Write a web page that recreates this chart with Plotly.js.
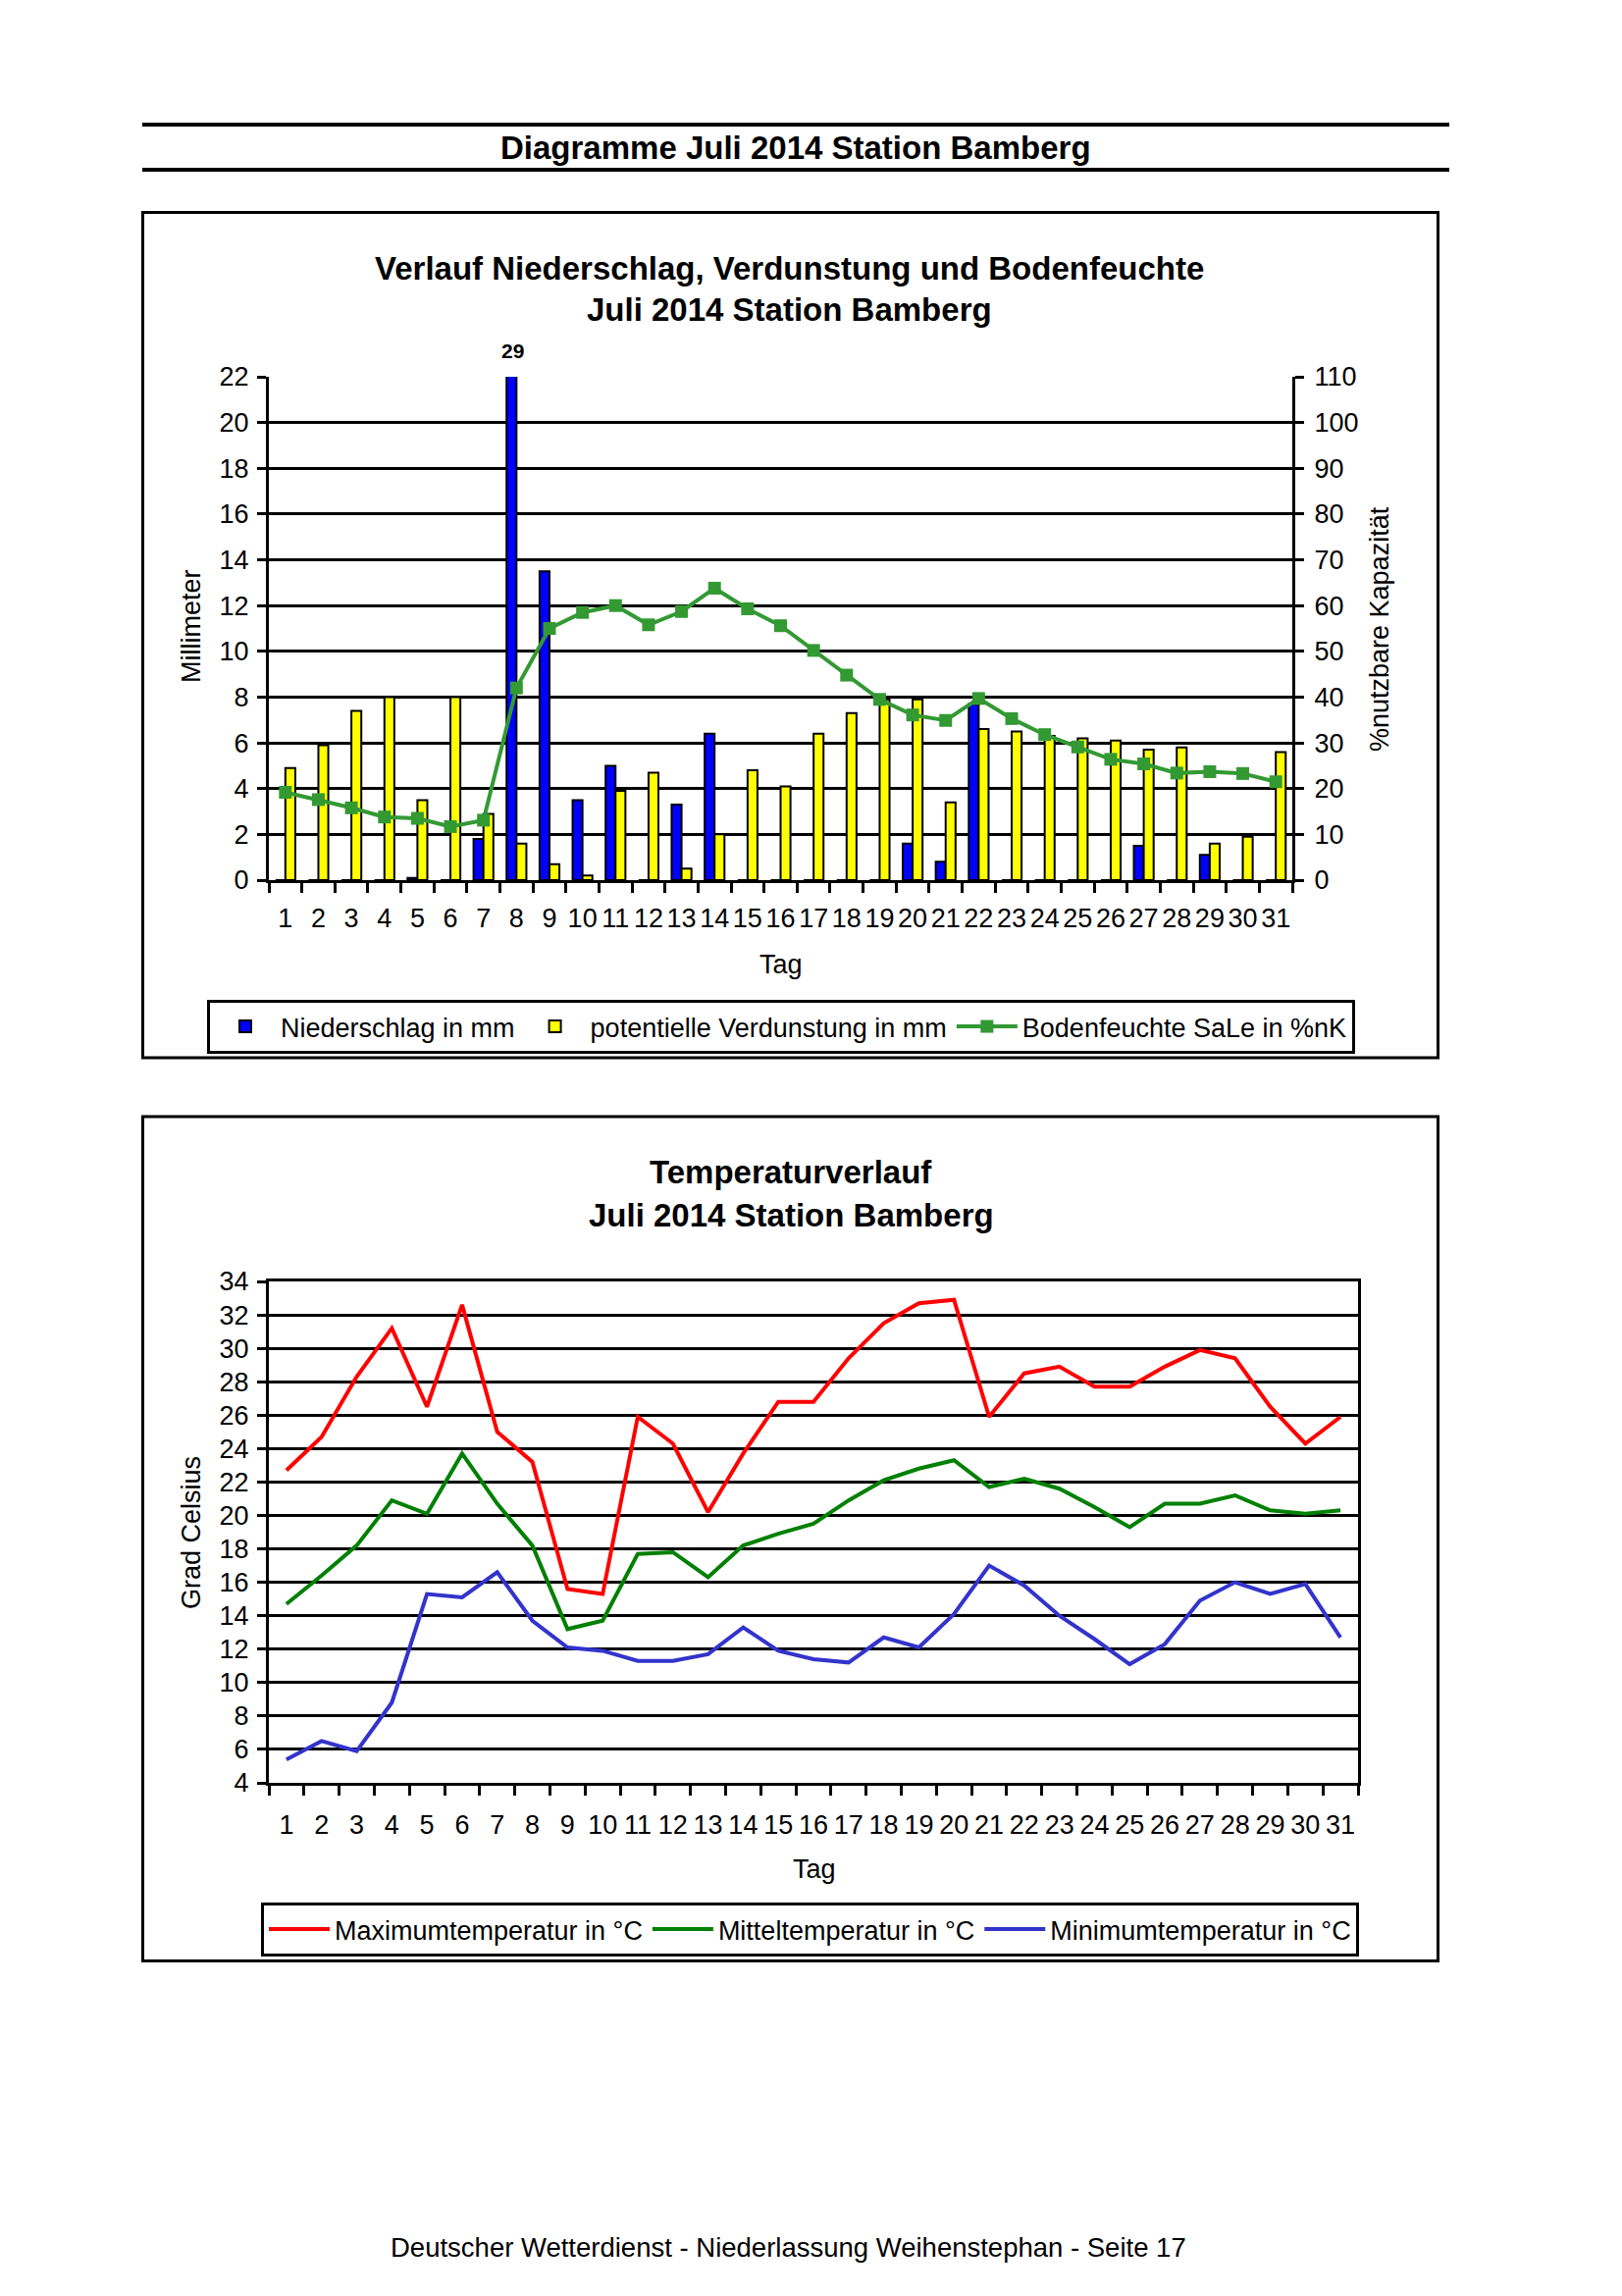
<!DOCTYPE html>
<html>
<head>
<meta charset="utf-8">
<script src="https://cdn.plot.ly/plotly-3.0.1.min.js"></script>
<style>
  html, body { margin: 0; padding: 0; background: #ffffff; }
  #page { width: 1653px; height: 2340px; }
</style>
</head>
<body>
<div id="page"></div>
<script>
// ---------------- data ----------------
const days = ['1','2','3','4','5','6','7','8','9','10','11','12','13','14','15','16','17','18','19','20','21','22','23','24','25','26','27','28','29','30','31'];

// Niederschlag in mm
const niederschlag = [0, 0, 0, 0, 0.1, 0, 1.8, 29, 13.5, 3.5, 5.0, 0, 3.3, 6.4, 0, 0, 0, 0, 0, 1.6, 0.8, 7.7, 0, 0, 0, 0, 1.5, 0, 1.1, 0, 0];
// potentielle Verdunstung in mm
const verdunstung = [4.9, 5.9, 7.4, 8.0, 3.5, 8.0, 2.9, 1.6, 0.7, 0.2, 3.9, 4.7, 0.5, 2.0, 4.8, 4.1, 6.4, 7.3, 7.9, 7.9, 3.4, 6.6, 6.5, 6.3, 6.2, 6.1, 5.7, 5.8, 1.6, 1.9, 5.6];
// Bodenfeuchte SaLe in %nK
const bodenfeuchte = [19.2, 17.6, 15.8, 13.8, 13.5, 11.7, 13.1, 42.0, 55.0, 58.5, 60.0, 55.8, 58.7, 63.8, 59.3, 55.6, 50.2, 44.8, 39.5, 36.1, 34.9, 39.7, 35.3, 31.8, 29.1, 26.4, 25.4, 23.4, 23.7, 23.3, 21.5];

// Temperatures in °C
const tMax  = [22.7, 24.7, 28.3, 31.2, 26.5, 32.6, 25.0, 23.2, 15.6, 15.3, 25.9, 24.3, 20.2, 23.7, 26.8, 26.8, 29.4, 31.5, 32.7, 32.9, 25.9, 28.5, 28.9, 27.7, 27.7, 28.9, 29.9, 29.4, 26.5, 24.3, 25.9];
const tMean = [14.7, 16.4, 18.2, 20.9, 20.1, 23.7, 20.7, 18.2, 13.2, 13.7, 17.7, 17.8, 16.3, 18.2, 18.9, 19.5, 20.9, 22.1, 22.8, 23.3, 21.7, 22.2, 21.6, 20.5, 19.3, 20.7, 20.7, 21.2, 20.3, 20.1, 20.3];
const tMin  = [5.4, 6.5, 5.9, 8.8, 15.3, 15.1, 16.6, 13.7, 12.1, 11.9, 11.3, 11.3, 11.7, 13.3, 11.9, 11.4, 11.2, 12.7, 12.1, 14.1, 17.0, 15.8, 14.0, 12.6, 11.1, 12.3, 14.9, 16.0, 15.3, 15.9, 12.7];

const mmRange = [0, 22];
const pctRange = [0, 110];
const tempRange = [4, 34];

// ---------------- layout helpers ----------------
const W = 1653, H = 2340;
const px = v => v / W;
const py = v => 1 - v / H;
const FONT = 'Liberation Sans, Arial, Helvetica, sans-serif';
const REG = 27, BOLD = 33;

const traces = [
  { type: 'bar', name: 'Niederschlag in mm', x: days, y: niederschlag, xaxis: 'x', yaxis: 'y',
    marker: { color: '#0000ff', line: { color: '#000000', width: 2 } }, legend: 'legend' },
  { type: 'bar', name: 'potentielle Verdunstung in mm', x: days, y: verdunstung, xaxis: 'x', yaxis: 'y',
    marker: { color: '#ffff00', line: { color: '#000000', width: 2 } }, legend: 'legend' },
  { type: 'scatter', mode: 'lines+markers', name: 'Bodenfeuchte SaLe in %nK', x: days, y: bodenfeuchte,
    xaxis: 'x', yaxis: 'y2', line: { color: '#339933', width: 4 },
    marker: { symbol: 'square', size: 13, color: '#339933' }, legend: 'legend' },

  { type: 'scatter', mode: 'lines', name: 'Maximumtemperatur in °C', x: days, y: tMax,
    xaxis: 'x2', yaxis: 'y3', line: { color: '#ff0000', width: 4 }, legend: 'legend2' },
  { type: 'scatter', mode: 'lines', name: 'Mitteltemperatur in °C', x: days, y: tMean,
    xaxis: 'x2', yaxis: 'y3', line: { color: '#008000', width: 4 }, legend: 'legend2' },
  { type: 'scatter', mode: 'lines', name: 'Minimumtemperatur in °C', x: days, y: tMin,
    xaxis: 'x2', yaxis: 'y3', line: { color: '#3333cc', width: 4 }, legend: 'legend2' }
];

const axBase = {
  showline: true, linecolor: '#000', linewidth: 3,
  ticks: 'outside', tickcolor: '#000', tickwidth: 3,
  zeroline: false, fixedrange: true,
  tickfont: { family: FONT, size: REG, color: '#000' }
};

// annotations for values beyond the axis range (e.g. "29")
const overflowNotes = [];
niederschlag.forEach((v, i) => {
  if (v > mmRange[1]) {
    overflowNotes.push({ xref: 'x', yref: 'paper', x: i, y: py(357), xshift: -4,
      xanchor: 'center', yanchor: 'middle',
      text: '<b>' + v + '</b>', showarrow: false, font: { family: FONT, size: 21, color: '#000' } });
  }
});

const txt = (x, y, text, size, bold, angle) => ({
  xref: 'paper', yref: 'paper', x: px(x), y: py(y), xanchor: 'center', yanchor: 'middle',
  text: bold ? '<b>' + text + '</b>' : text, showarrow: false, textangle: angle || 0,
  font: { family: FONT, size: size, color: '#000' }
});

const legendBase = {
  xanchor: 'left', yanchor: 'top', orientation: 'h',
  bgcolor: '#ffffff', bordercolor: '#000', borderwidth: 3, itemwidth: 62,
  font: { family: FONT, size: REG, color: '#000' }, traceorder: 'normal'
};

const layout = {
  width: W, height: H,
  margin: { l: 0, r: 0, t: 0, b: 0 },
  paper_bgcolor: '#ffffff', plot_bgcolor: 'rgba(0,0,0,0)',
  font: { family: FONT, size: REG, color: '#000' },
  barmode: 'group', bargap: 0.4, bargroupgap: 0,
  showlegend: true,

  xaxis: Object.assign({}, axBase, {
    domain: [px(274), px(1317)], anchor: 'y', type: 'category', range: [-0.5, 30.5],
    tickson: 'boundaries', ticklen: 10, showgrid: false, tickangle: 0, ticklabelstandoff: 13
  }),
  yaxis: Object.assign({}, axBase, {
    domain: [py(897), py(384)], anchor: 'x', range: mmRange, tick0: 0, dtick: 2, ticklen: 9,
    showgrid: true, gridcolor: '#000', gridwidth: 3, ticklabelstandoff: 3
  }),
  yaxis2: Object.assign({}, axBase, {
    overlaying: 'y', side: 'right', anchor: 'x', range: pctRange, tick0: 0, dtick: 10, ticklen: 9,
    showgrid: false, ticklabelstandoff: 5
  }),

  xaxis2: Object.assign({}, axBase, {
    domain: [px(274), px(1384)], anchor: 'y3', type: 'category', range: [-0.5, 30.5],
    tickson: 'boundaries', ticklen: 10, showgrid: false, mirror: true, tickangle: 0, ticklabelstandoff: 17
  }),
  yaxis3: Object.assign({}, axBase, {
    domain: [py(1817), py(1306)], anchor: 'x2', range: tempRange, tick0: 4, dtick: 2, ticklen: 9,
    showgrid: true, gridcolor: '#000', gridwidth: 3, mirror: true, ticklabelstandoff: 3
  }),

  legend: Object.assign({}, legendBase, { x: px(211), y: py(1019) }),
  legend2: Object.assign({}, legendBase, { x: px(266), y: py(1939) }),

  shapes: [
    { type: 'line', xref: 'paper', yref: 'paper', x0: px(145), x1: px(1477), y0: py(127), y1: py(127), line: { color: '#000', width: 4 } },
    { type: 'line', xref: 'paper', yref: 'paper', x0: px(145), x1: px(1477), y0: py(173), y1: py(173), line: { color: '#000', width: 4 } },
    { type: 'rect', xref: 'paper', yref: 'paper', x0: px(145.5), x1: px(1465.5), y0: py(216.5), y1: py(1078), line: { color: '#000', width: 3 } },
    { type: 'rect', xref: 'paper', yref: 'paper', x0: px(145.5), x1: px(1465.5), y0: py(1138), y1: py(1998.5), line: { color: '#000', width: 3 } }
  ],

  annotations: [
    txt(811, 151, 'Diagramme Juli 2014 Station Bamberg', BOLD, true),
    txt(804, 273, 'Verlauf Niederschlag, Verdunstung und Bodenfeuchte', BOLD, true),
    txt(804, 316, 'Juli 2014 Station Bamberg', BOLD, true),
    txt(195, 638, 'Millimeter', REG, false, -90),
    txt(1406, 641, '%nutzbare Kapazität', REG, false, -90),
    txt(796, 983, 'Tag', REG, false),

    txt(806, 1194, 'Temperaturverlauf', BOLD, true),
    txt(806, 1238, 'Juli 2014 Station Bamberg', BOLD, true),
    txt(195, 1562, 'Grad Celsius', REG, false, -90),
    txt(830, 1905, 'Tag', REG, false),

    txt(803, 2290, 'Deutscher Wetterdienst - Niederlassung Weihenstephan - Seite 17', REG + 0.5, false)
  ].concat(overflowNotes)
};

Plotly.newPlot('page', traces, layout, { displayModeBar: false, staticPlot: true });
</script>
</body>
</html>
